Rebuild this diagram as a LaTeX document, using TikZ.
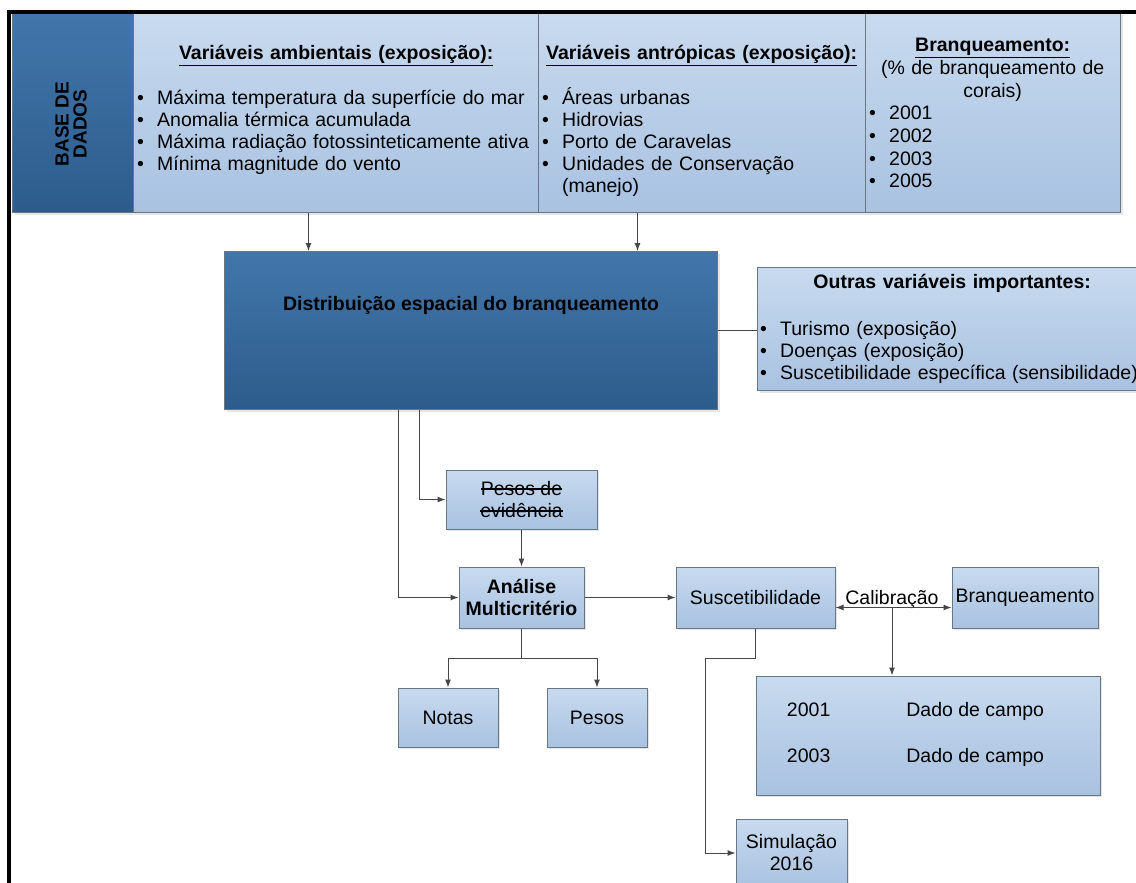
\documentclass[tikz,border=0pt]{standalone}
\usepackage{fontspec}
\setmainfont{Liberation Sans}
\usetikzlibrary{arrows.meta, positioning, shadows}

\definecolor{lighttop}{RGB}{200,218,239}
\definecolor{lightbot}{RGB}{168,194,224}
\definecolor{darktop}{RGB}{66,118,170}
\definecolor{darkbot}{RGB}{45,92,140}
\definecolor{edgegray}{RGB}{105,118,132}
\definecolor{linegray}{RGB}{70,70,70}

\newcommand{\boxfont}{\fontsize{19.5}{22}\selectfont}
\newcommand{\blt}{\makebox[20pt][l]{\textbullet}}
\newcommand{\ctr}[1]{\makebox[\linewidth]{#1}}
\newsavebox{\strkbox}
\newcommand{\strk}[1]{\sbox{\strkbox}{#1}\rlap{\rule[0.3em]{\wd\strkbox}{0.07em}}\usebox{\strkbox}}

\begin{document}
\begin{tikzpicture}[x=1pt, y=-1pt]
	\tikzset{
		lbox/.style={rectangle, draw=edgegray, line width=1pt, top color=lighttop, bottom color=lightbot, inner sep=0pt, text centered, font=\boxfont, drop shadow={opacity=0.2, shadow xshift=2pt, shadow yshift=-2pt}},
		dbox/.style={lbox, top color=darktop, bottom color=darkbot},
		txtnode/.style={inner sep=0pt, font=\boxfont, align=left, anchor=north west},
		arr/.style={draw=linegray, line width=1pt, -{Latex[length=8pt, width=6pt]}},
		arrboth/.style={draw=linegray, line width=1pt, {Latex[length=8pt, width=6pt]}-{Latex[length=8pt, width=6pt]}},
		conn/.style={draw=linegray, line width=1pt},
	}
	\useasboundingbox (0,0) rectangle (1136,883);

	% base de dados
	\node[dbox, anchor=north west, minimum width=121pt, minimum height=199pt] (base) at (12,13) {};
	\node[lbox, anchor=north west, minimum width=405pt, minimum height=199pt] (amb) at (133,13) {};
	\node[lbox, anchor=north west, minimum width=327pt, minimum height=199pt] (antr) at (538,13) {};
	\node[lbox, anchor=north west, minimum width=255pt, minimum height=199pt] (brcel) at (865,13) {};

	\node[font=\fontsize{19}{18}\selectfont\bfseries, rotate=90, align=center] (basetxt) at (71,124) {BASE DE\\DADOS};

	\node[txtnode, text width=398pt, below right=32pt and 4pt of amb.north west] (ambtxt) {
		\ctr{\bfseries\underline{Variáveis ambientais (exposição):}}\\[23pt]
		\blt Máxima temperatura da superfície do mar\\
		\blt Anomalia térmica acumulada\\
		\blt Máxima radiação fotossinteticamente ativa\\
		\blt Mínima magnitude do vento};
	\node[txtnode, text width=319pt, below right=32pt and 4pt of antr.north west] (antrtxt) {
		\ctr{\bfseries\underline{Variáveis antrópicas (exposição):}}\\[23pt]
		\blt \smash{Áreas urbanas}\\
		\blt Hidrovias\\
		\blt Porto de Caravelas\\
		\blt Unidades de Conservação\\
		\hspace*{20pt}(manejo)};
	\node[txtnode, text width=247pt, font=\fontsize{19.5}{22.7}\selectfont, below right=25pt and 4pt of brcel.north west] (brtxt) {
		\ctr{\bfseries\underline{Branqueamento:}}\\
		\ctr{(\% de branqueamento de}\\
		\ctr{corais)}\\
		\blt 2001\\
		\blt 2002\\
		\blt 2003\\
		\blt 2005};

	% distribuicao
	\node[dbox, anchor=north west, minimum width=493pt, minimum height=158pt] (dist) at (224,251) {};
	\node[font=\boxfont\bfseries] (disttxt) at ([yshift=25pt]dist.center) {Distribuição espacial do branqueamento};

	\node[lbox, anchor=north west, minimum width=383pt, minimum height=123pt] (outras) at (757,267) {};
	\node[txtnode, text width=384pt, below right=7pt and 3pt of outras.north west] (outtxt) {
		\ctr{\bfseries Outras variáveis importantes:}\\[25pt]
		\blt Turismo (exposição)\\
		\blt Doenças (exposição)\\
		\blt Suscetibilidade específica (sensibilidade)};

	\draw[arr] ([xshift=-27.5pt]amb.south) -- ([xshift=-27.5pt]amb.south |- dist.north);
	\draw[arr] ([xshift=-64.5pt]antr.south) -- ([xshift=-64.5pt]antr.south |- dist.north);
	\draw[conn] (dist.east) -- (dist.east -| outras.west);

	% analise
	\node[lbox, minimum width=151pt, minimum height=59pt, align=center] (pev) at (521.5,499.5) {\strk{Pesos de}\\\strk{evidência}};
	\node[lbox, minimum width=125pt, minimum height=61pt, align=center, font=\boxfont\bfseries] (anal) at (521.5,597.5) {Análise\\Multicritério};
	\node[lbox, minimum width=159pt, minimum height=61pt] (susc) at (755.5,597.5) {Suscetibilidade};
	\node[lbox, minimum width=146pt, minimum height=61pt] (branq) at (1025,597.5) {Branqueamento};
	\node[font=\boxfont, inner sep=0pt, anchor=base] (calib) at (892,604) {Calibração};

	\node[lbox, minimum width=100pt, minimum height=59pt] (notas) at (448,717.5) {Notas};
	\node[lbox, minimum width=100pt, minimum height=59pt] (pesos) at (597,717.5) {Pesos};
	\node[lbox, minimum width=344pt, minimum height=119pt] (dado) at (928,735.5) {\begin{tabular}{@{}l@{\hspace{76pt}}l@{}}2001 & Dado de campo\\[24pt] 2003 & Dado de campo\end{tabular}\hspace*{25pt}};
	\node[lbox, minimum width=111pt, minimum height=68pt, align=center] (sim) at (791.5,853) {Simulação\\2016};

	\draw[arr] ([xshift=174pt]dist.south west) |- (anal.west);
	\draw[arr] ([xshift=195pt]dist.south west) |- (pev.west);
	\draw[arr] (pev) -- (anal);
	\draw[arr] (anal) -- (susc);
	\draw[arrboth] ([yshift=-10pt]susc.east) -- ([yshift=-10pt]branq.west);
	\draw[arr] ([yshift=-3.5pt]calib.base) -- (calib.base |- dado.north);
	\draw[arr] (susc.south) -- ++(0,30) -| ([xshift=-30pt]sim.west) -- (sim.west);
	\draw[arr] (anal.south) -- ++(0,30) -| (notas.north);
	\draw[arr] (anal.south) -- ++(0,30) -| (pesos.north);

	% moldura
	\draw[line width=3.5pt] (9,883) -- (9,12) -- (1136,12);
\end{tikzpicture}
\end{document}
